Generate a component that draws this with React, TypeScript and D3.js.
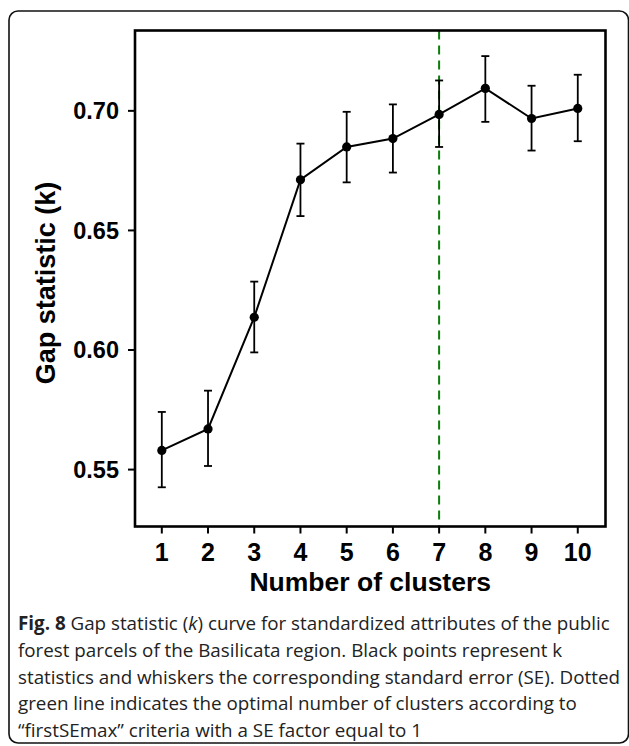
import React from "react";
import * as d3 from "d3";

const clusters = [1, 2, 3, 4, 5, 6, 7, 8, 9, 10];
const gapValues = [0.558, 0.567, 0.6137, 0.6712, 0.6849, 0.6884, 0.6985, 0.7094, 0.6968, 0.701];
const seLower = [0.5426, 0.5515, 0.599, 0.656, 0.6701, 0.6742, 0.6849, 0.6954, 0.6834, 0.6873];
const seUpper = [0.5741, 0.583, 0.6286, 0.6863, 0.6996, 0.7027, 0.7127, 0.7229, 0.7105, 0.7151];
const yTicks = [0.55, 0.6, 0.65, 0.7];
const xTicks = [1, 2, 3, 4, 5, 6, 7, 8, 9, 10];
const optimalK = 7;
const captionLines = [
  [["Fig. 8", true], [" Gap statistic (", false], ["k", "italic"], [") curve for standardized attributes of the public", false]],
  [["forest parcels of the Basilicata region. Black points represent k", false]],
  [["statistics and whiskers the corresponding standard error (SE). Dotted", false]],
  [["green line indicates the optimal number of clusters according to", false]],
  [["\u201cfirstSEmax\u201d criteria with a SE factor equal to 1", false]],
];

const W = 629;
const H = 746;
const plot = { left: 135, right: 605.5, top: 30.5, bottom: 526.5 };

export default function App() {
  const x = d3.scaleLinear().domain([0.42, 10.6]).range([plot.left, plot.right]);
  const y = d3.scaleLinear().domain([0.5262, 0.7336]).range([plot.bottom, plot.top]);
  const pts = clusters.map((c, i) => [c, gapValues[i]] as [number, number]);
  const line = d3.line<[number, number]>().x((d) => x(d[0])).y((d) => y(d[1]));
  const chartFont = "'Liberation Sans', Arial, sans-serif";
  const capW = 4;

  return (
    <svg width={W} height={H} style={{ position: "absolute", left: 0, top: 0, background: "#fff" }}>
      <rect x={9} y={11} width={619.5} height={732} rx={9} ry={9} fill="none" stroke="#111" strokeWidth={1.6} />
      <line x1={x(optimalK)} x2={x(optimalK)} y1={plot.top} y2={plot.bottom} stroke="#0a7d0a" strokeWidth={2} strokeDasharray="9,6" />
      {clusters.map((c, i) => (
        <g key={"e" + c} stroke="#000" strokeWidth={1.8}>
          <line x1={x(c)} x2={x(c)} y1={y(seLower[i])} y2={y(seUpper[i])} />
          <line x1={x(c) - capW} x2={x(c) + capW} y1={y(seLower[i])} y2={y(seLower[i])} />
          <line x1={x(c) - capW} x2={x(c) + capW} y1={y(seUpper[i])} y2={y(seUpper[i])} />
        </g>
      ))}
      <path d={line(pts) || ""} fill="none" stroke="#000" strokeWidth={2} />
      {pts.map((p) => (
        <circle key={"p" + p[0]} cx={x(p[0])} cy={y(p[1])} r={4.6} fill="#000" />
      ))}
      <rect x={plot.left} y={plot.top} width={plot.right - plot.left} height={plot.bottom - plot.top} fill="none" stroke="#000" strokeWidth={2.6} />
      {yTicks.map((t) => (
        <g key={"y" + t}>
          <line x1={plot.left - 7} x2={plot.left} y1={y(t)} y2={y(t)} stroke="#000" strokeWidth={2} />
          <text x={plot.left - 16} y={y(t)} dy="0.36em" textAnchor="end" fontFamily={chartFont} fontWeight="bold" fontSize={23.5}>
            {d3.format(".2f")(t)}
          </text>
        </g>
      ))}
      {xTicks.map((t) => (
        <g key={"x" + t}>
          <line x1={x(t)} x2={x(t)} y1={plot.bottom} y2={plot.bottom + 7} stroke="#000" strokeWidth={2} />
          <text x={x(t)} y={plot.bottom + 34.5} textAnchor="middle" fontFamily={chartFont} fontWeight="bold" fontSize={25}>
            {t}
          </text>
        </g>
      ))}
      <text x={(plot.left + plot.right) / 2} y={plot.bottom + 64} textAnchor="middle" fontFamily={chartFont} fontWeight="bold" fontSize={26.5}>
        Number of clusters
      </text>
      <text transform={`translate(55, 283) rotate(-90)`} textAnchor="middle" fontFamily={chartFont} fontWeight="bold" fontSize={27}>
        Gap statistic (k)
      </text>
      {captionLines.map((ln, i) => (
        <text key={"c" + i} x={18} y={630 + i * 26.8} fontFamily="'Open Sans', 'Noto Sans', sans-serif" fontSize={18.8} fill="#222">
          {ln.map((seg, j) => (
            <tspan key={j} fontWeight={seg[1] === true ? "bold" : "normal"} fontStyle={seg[1] === "italic" ? "italic" : "normal"}>
              {seg[0] as string}
            </tspan>
          ))}
        </text>
      ))}
    </svg>
  );
}
